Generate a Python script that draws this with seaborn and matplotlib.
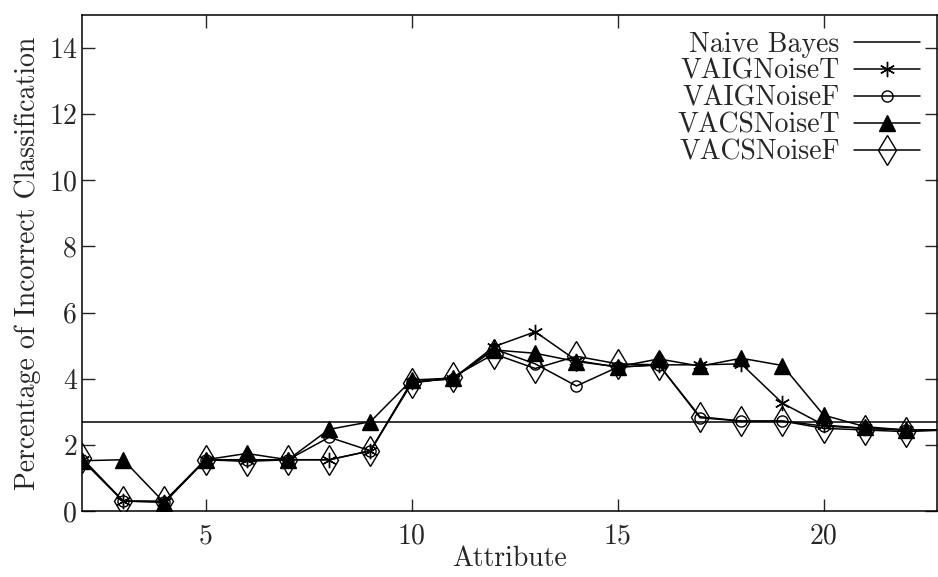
import pandas as pd
import matplotlib
matplotlib.use('Agg')
import matplotlib.pyplot as plt
import seaborn as sns

# Attribute index on the x axis (23 is just off the right edge, lines run into it)
attributes = [2, 3, 4, 5, 6, 7, 8, 9, 10, 11, 12, 13, 14, 15, 16, 17, 18, 19, 20, 21, 22, 23]

naive_bayes = 2.68

vaig_noise_t = [1.55, 0.30, 0.27, 1.55, 1.55, 1.55, 1.55, 1.82, 3.90, 4.00, 4.97, 5.42,
                4.55, 4.35, 4.42, 4.42, 4.45, 3.26, 2.60, 2.50, 2.45, 2.45]
vaig_noise_f = [1.55, 0.30, 0.27, 1.55, 1.55, 1.55, 2.23, 1.82, 3.90, 4.00, 4.90, 4.45,
                3.78, 4.35, 4.42, 2.82, 2.72, 2.72, 2.57, 2.50, 2.45, 2.45]
vacs_noise_t = [1.52, 1.55, 0.25, 1.55, 1.74, 1.55, 2.47, 2.70, 3.96, 4.02, 4.87, 4.77,
                4.52, 4.36, 4.60, 4.38, 4.62, 4.40, 2.90, 2.55, 2.45, 2.45]
vacs_noise_f = [1.60, 0.30, 0.30, 1.55, 1.50, 1.55, 1.55, 1.82, 3.86, 4.05, 4.75, 4.31,
                4.68, 4.45, 4.42, 2.85, 2.72, 2.72, 2.50, 2.45, 2.40, 2.45]

y_ticks = [0, 2, 4, 6, 8, 10, 12, 14]
x_ticks = [5, 10, 15, 20]

sns.set_style('ticks')
plt.rcParams['font.family'] = ['cmr10', 'DejaVu Serif']
plt.rcParams['mathtext.fontset'] = 'cm'
plt.rcParams['axes.unicode_minus'] = False
plt.rcParams['font.size'] = 20

fig = plt.figure(figsize=(9.38, 5.77), dpi=100)
ax = fig.add_axes([0.0874, 0.1144, 0.9115, 0.8596])

ax.axhline(naive_bayes, color='black', lw=1.1, label='Naive Bayes')

series = [
    ('VAIGNoiseT', vaig_noise_t, dict(marker=(6, 2, 0), markersize=11, mec='black', mew=1.0)),
    ('VAIGNoiseF', vaig_noise_f, dict(marker='o', markersize=8, mfc='none', mec='black', mew=1.0)),
    ('VACSNoiseT', vacs_noise_t, dict(marker='^', markersize=12, mfc='black', mec='black', mew=1.0)),
    ('VACSNoiseF', vacs_noise_f, dict(marker='d', markersize=15, mfc='none', mec='black', mew=1.0)),
]
for name, vals, style in series:
    df = pd.DataFrame({'Attribute': attributes, 'value': vals})
    sns.lineplot(data=df, x='Attribute', y='value', color='black', lw=1.1,
                 label=name, ax=ax, **style)

ax.set_xlim(2, 22.75)
ax.set_ylim(0, 15)
ax.set_xticks(x_ticks)
ax.set_yticks(y_ticks)
ax.tick_params(direction='in', top=True, right=True, length=9, width=1, labelsize=20)
ax.tick_params(axis='x', pad=9)
for s in ax.spines.values():
    s.set_linewidth(1.1)
    s.set_color('black')
ax.set_xlabel('Attribute', fontsize=20, labelpad=-3)
ax.set_ylabel('Percentage of Incorrect Classification', fontsize=20, labelpad=6)

leg = ax.legend(loc='upper right', frameon=False, markerfirst=False, fontsize=20,
                labelspacing=0.02, handlelength=2.4, handletextpad=0.5,
                borderaxespad=0.35, borderpad=0.25)
# gnuplot-style key: labels right-justified against the sample lines
for col in leg._legend_handle_box.get_children():
    col.align = 'right'

fig.savefig('out.png', dpi=100)
